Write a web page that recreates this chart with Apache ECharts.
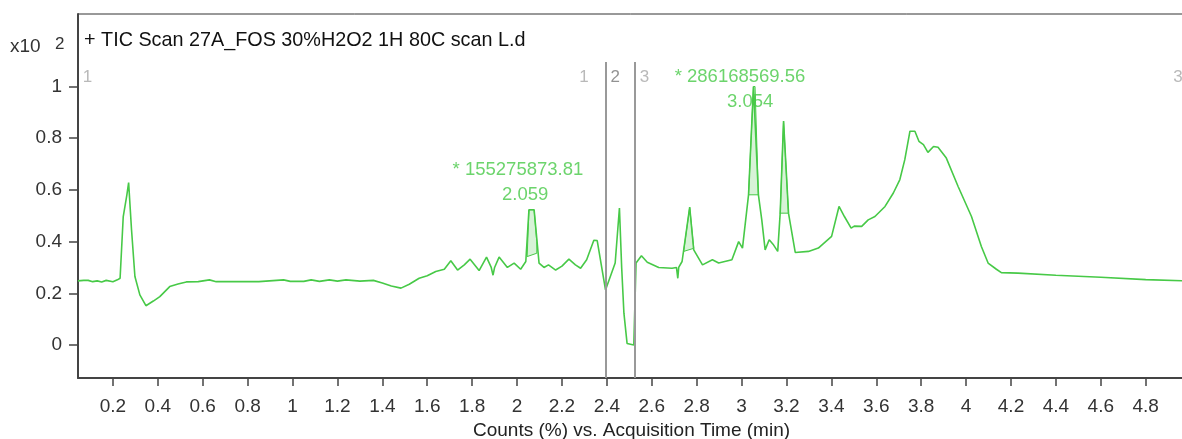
<!DOCTYPE html>
<html><head><meta charset="utf-8">
<script src="https://cdn.jsdelivr.net/npm/echarts@6/dist/echarts.min.js"></script>
<style>html,body{margin:0;padding:0;background:#fff}#c{width:1182px;height:439px}</style>
</head><body><div id="c"></div>
<script>
// tick labels
const xTicks = [0.2,0.4,0.6,0.8,1,1.2,1.4,1.6,1.8,2,2.2,2.4,2.6,2.8,3,3.2,3.4,3.6,3.8,4,4.2,4.4,4.6,4.8];
const yTicks = [0,0.2,0.4,0.6,0.8,1];
// TIC trace: [time (min), counts x10^2 %]
const ticTrace = [
[0.044,0.248],[0.07,0.25],[0.09,0.25],[0.11,0.245],[0.13,0.248],[0.15,0.244],[0.17,0.25],[0.2,0.245],[0.22,0.252],[0.232,0.258],
[0.246,0.497],[0.262,0.58],[0.27,0.628],[0.283,0.445],[0.298,0.265],[0.32,0.194],[0.347,0.152],[0.38,0.17],[0.409,0.187],[0.453,0.226],
[0.49,0.236],[0.527,0.244],[0.58,0.245],[0.63,0.252],[0.66,0.245],[0.75,0.245],[0.85,0.245],[0.96,0.252],[0.99,0.246],[1.05,0.246],
[1.083,0.252],[1.12,0.246],[1.164,0.252],[1.2,0.247],[1.238,0.252],[1.3,0.247],[1.36,0.25],[1.4,0.24],[1.44,0.228],[1.483,0.22],
[1.52,0.235],[1.564,0.258],[1.6,0.268],[1.638,0.284],[1.676,0.293],[1.705,0.326],[1.735,0.29],[1.765,0.31],[1.791,0.332],[1.831,0.288],
[1.864,0.34],[1.885,0.3],[1.893,0.27],[1.9,0.3],[1.92,0.34],[1.957,0.3],[1.987,0.317],[2.016,0.293],[2.039,0.323],[2.053,0.523],
[2.076,0.523],[2.098,0.317],[2.12,0.3],[2.14,0.31],[2.172,0.29],[2.2,0.305],[2.231,0.332],[2.26,0.31],[2.283,0.297],[2.31,0.33],
[2.342,0.405],[2.357,0.404],[2.394,0.213],[2.437,0.317],[2.456,0.53],[2.466,0.3],[2.476,0.123],[2.49,0.006],[2.52,0.0],[2.53,0.317],
[2.554,0.345],[2.58,0.32],[2.631,0.3],[2.69,0.297],[2.71,0.3],[2.716,0.258],[2.72,0.3],[2.735,0.323],[2.769,0.533],[2.787,0.368],
[2.826,0.31],[2.87,0.33],[2.898,0.317],[2.957,0.33],[2.987,0.4],[3.004,0.375],[3.031,0.581],[3.053,1.0],[3.06,1.0],[3.075,0.581],
[3.09,0.484],[3.105,0.368],[3.123,0.407],[3.14,0.39],[3.161,0.362],[3.172,0.51],[3.187,0.866],[3.209,0.51],[3.239,0.358],[3.298,0.362],
[3.342,0.375],[3.401,0.42],[3.434,0.536],[3.458,0.497],[3.488,0.452],[3.502,0.46],[3.535,0.459],[3.564,0.484],[3.594,0.497],[3.639,0.536],
[3.676,0.588],[3.705,0.64],[3.727,0.717],[3.75,0.827],[3.772,0.827],[3.79,0.788],[3.81,0.775],[3.83,0.745],[3.855,0.768],[3.875,0.765],
[3.912,0.723],[3.964,0.614],[4.024,0.497],[4.068,0.381],[4.098,0.317],[4.135,0.293],[4.157,0.28],[4.231,0.278],[4.4,0.27],[4.6,0.262],
[4.8,0.253],[4.97,0.248]
];
// integrated peak areas (polygon outlines)
const integratedAreas = [
[[2.045,0.342],[2.053,0.523],[2.076,0.523],[2.088,0.40],[2.088,0.355]],
[[2.742,0.362],[2.769,0.533],[2.787,0.374]],
[[3.031,0.581],[3.053,1.0],[3.06,1.0],[3.075,0.581]],
[[3.172,0.51],[3.187,0.866],[3.209,0.51]]
];
// peak annotation texts
const peakLabelPos = [[2.004,0.677],[2.036,0.58],[2.993,1.037],[3.038,0.94]];
const peakLabelText = ['* 155275873.81','2.059','* 286168569.56','3.054'];
// chromatogram segment markers
const markerLines = [2.396, 2.526];
const markerPos = [[0.087,1.037],[2.298,1.037],[2.437,1.037],[2.568,1.037],[4.944,1.037]];
const markerText = ['1','1','2','3','3'];
const markerColor = ['#a8a8a8','#a8a8a8','#777777','#a8a8a8','#a8a8a8'];

const GREEN = '#47c947';
const FONT = 'Liberation Sans, Arial, sans-serif';
const fmt = v => String(Math.round(v*10)/10);

const chart = echarts.init(document.getElementById('c'), null, {renderer:'canvas'});
chart.setOption({
  animation:false,
  backgroundColor:'#fff',
  grid:{left:78, right:-3, top:14, bottom:61, show:true, borderColor:'#333', borderWidth:1, backgroundColor:'transparent',
        containLabel:false, outerBoundsMode:'none'},
  xAxis:{type:'value', min:0.0445, max:4.975,
    name:'Counts (%) vs. Acquisition Time (min)', nameLocation:'middle', nameGap:37,
    nameTextStyle:{fontFamily:FONT, fontSize:19, color:'#222'},
    axisLine:{show:true, onZero:false, lineStyle:{color:'#444', width:2}},
    axisTick:{show:true, customValues:xTicks, length:8, lineStyle:{color:'#444', width:1.5}},
    axisLabel:{show:true, customValues:xTicks, formatter:fmt, margin:19, fontFamily:FONT, fontSize:19, color:'#333'},
    splitLine:{show:false}},
  yAxis:{type:'value', min:-0.1277, max:1.2805,
    axisLine:{show:true, onZero:false, lineStyle:{color:'#444', width:2}},
    axisTick:{show:true, customValues:yTicks, length:9, lineStyle:{color:'#444', width:1.5}},
    axisLabel:{show:true, customValues:yTicks, formatter:fmt, margin:16, fontFamily:FONT, fontSize:19, color:'#333'},
    splitLine:{show:false}},
  graphic:[
    {type:'text', left:10, top:37, style:{text:'x10', font:'19px '+FONT, fill:'#333'}},
    {type:'text', left:55, top:36, style:{text:'2', font:'17px '+FONT, fill:'#333'}},
    {type:'text', left:84, top:31, style:{text:'+ TIC Scan 27A_FOS 30%H2O2 1H 80C scan L.d', font:'19.8px '+FONT, fill:'#111'}}
  ],
  series:[
    {type:'custom', z:2, silent:true,
     data: integratedAreas.map((a,i)=>[a[0][0], a[0][1], i]),
     renderItem:(params, api)=>{
       const pts = integratedAreas[api.value(2)].map(p=>api.coord(p));
       return {type:'polygon', shape:{points:pts}, style:{fill:'rgba(71,201,71,0.22)', stroke:GREEN, lineWidth:1}};
     }},
    {type:'line', z:3, data:ticTrace, showSymbol:false, symbol:'none', silent:true,
     lineStyle:{color:GREEN, width:1.6},
     markLine:{silent:true, symbol:['none','none'], animation:false, label:{show:false},
       lineStyle:{color:'#999', width:2, type:'solid'},
       data: markerLines.map(x=>[{coord:[x,1.095]},{coord:[x,-0.1277]}])}},
    {type:'scatter', z:4, symbolSize:0, silent:true,
     data: peakLabelPos.map((p,i)=>({value:p, name:peakLabelText[i]})),
     label:{show:true, position:'inside', formatter:p=>p.name, color:GREEN, fontFamily:FONT, fontSize:18.5}},
    {type:'scatter', z:4, symbolSize:0, silent:true,
     data: markerPos.map((p,i)=>({value:p, name:markerText[i], label:{color:markerColor[i]}})),
     label:{show:true, position:'inside', formatter:p=>p.name, fontFamily:FONT, fontSize:17}}
  ]
});
</script></body></html>
